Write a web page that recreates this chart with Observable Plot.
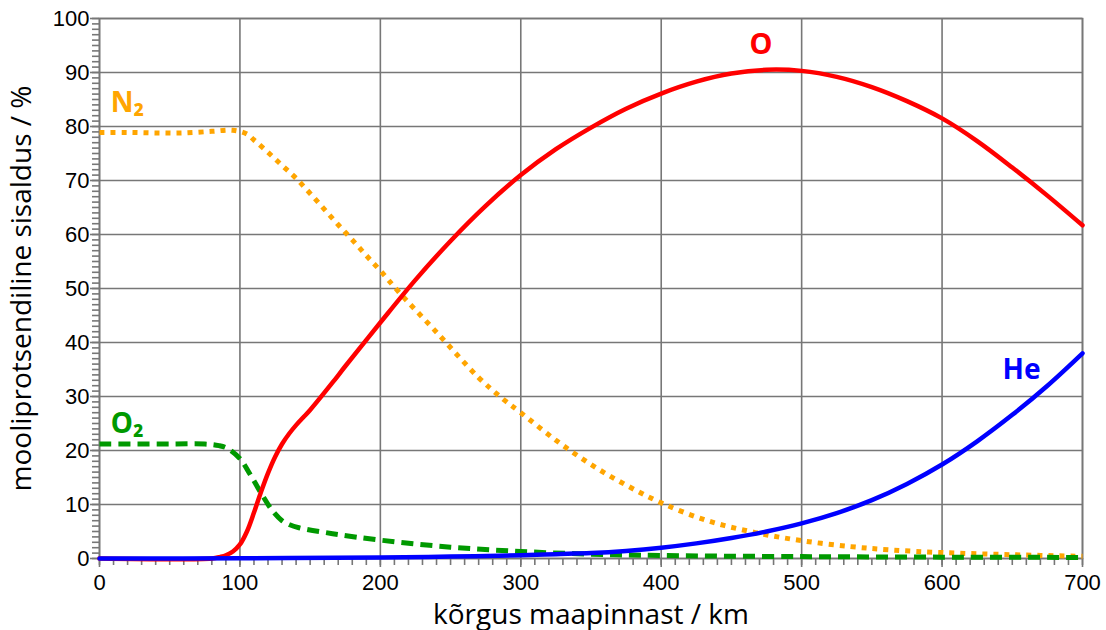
<!DOCTYPE html>
<html>
<head>
<meta charset="utf-8">
<script src="https://cdn.jsdelivr.net/npm/d3@7"></script>
<script src="https://cdn.jsdelivr.net/npm/@observablehq/plot@0.6"></script>
<style>
  html, body { margin: 0; padding: 0; background: #fff; }
  #chart svg { display: block; }
</style>
</head>
<body>
<div id="chart"></div>
<script>
// ---- data ----
const xTitle = "kõrgus maapinnast / km";
const yTitle = "mooliprotsendiline sisaldus / %";
const xTicks = [0, 100, 200, 300, 400, 500, 600, 700];
const yTicks = [0, 10, 20, 30, 40, 50, 60, 70, 80, 90, 100];

const n2Alt = [0, 20, 40, 60, 80, 95, 105, 110, 120, 130, 140, 150, 160, 170, 180, 190, 200, 213, 240, 270, 287, 300, 325, 350, 375, 400, 433, 467, 500, 535, 563, 600, 650, 700];
const n2Val = [78.9, 78.9, 78.8, 78.8, 79.1, 79.3, 78.6, 77.5, 75.2, 72.8, 70.4, 67.6, 64.7, 61.8, 59.0, 56.1, 53.3, 49.4, 41.9, 33.5, 29.6, 27.0, 21.9, 17.4, 13.6, 10.3, 7.0, 4.8, 3.3, 2.2, 1.6, 1.1, 0.7, 0.4];

const oAlt = [0, 80, 86, 90, 95, 100, 105, 110, 115, 120, 125, 130, 135, 140, 145, 150, 166, 175, 200, 225, 250, 275, 300, 325, 350, 375, 400, 425, 450, 475, 500, 525, 550, 575, 600, 625, 650, 675, 700];
const oVal = [0, 0, 0.3, 0.6, 1.3, 2.6, 5.0, 8.5, 12.3, 15.8, 18.8, 21.2, 23.1, 24.7, 26.1, 27.5, 32.6, 35.6, 43.7, 51.6, 58.8, 65.3, 71.0, 75.8, 79.8, 83.3, 86.1, 88.3, 89.8, 90.5, 90.3, 89.2, 87.3, 84.7, 81.5, 77.3, 72.4, 67.2, 61.7];

const o2Alt = [0, 50, 75, 85, 91, 100, 107, 116, 123, 130, 135, 142, 166, 200, 250, 300, 350, 400, 500, 600, 700];
const o2Val = [21.2, 21.2, 21.2, 20.9, 20.4, 18.5, 15.7, 11.7, 8.9, 7.0, 6.3, 5.7, 4.6, 3.4, 2.1, 1.3, 0.8, 0.55, 0.35, 0.25, 0.2];

const heAlt = [0, 100, 200, 250, 300, 325, 350, 375, 400, 425, 450, 475, 500, 525, 550, 575, 600, 625, 650, 675, 700];
const heVal = [0, 0.05, 0.2, 0.35, 0.6, 0.8, 1.0, 1.4, 2.0, 2.8, 3.8, 5.0, 6.5, 8.4, 10.8, 13.8, 17.4, 21.7, 26.6, 32.0, 38.0];

const labelText = ["O", "N₂", "O₂", "He"];
const labelAlt = [471, 8, 8, 643];
const labelVal = [93.5, 82.6, 23.3, 33.3];
const labelColor = ["#ff0000", "#ffa500", "#009900", "#0000ff"];

// ---- build tables ----
const toRows = (xs, ys) => xs.map((x, i) => ({x, y: ys[i]}));
const n2 = toRows(n2Alt, n2Val);
const o = toRows(oAlt, oVal);
const o2 = toRows(o2Alt, o2Val);
const he = toRows(heAlt, heVal);
const labels = labelText.map((t, i) => ({t, x: labelAlt[i], y: labelVal[i], c: labelColor[i]}));

const gray = "#777";
const tickFont = "Liberation Sans, Arial, sans-serif";
const titleFont = "Open Sans, Noto Sans, sans-serif";
const labelFont = "Noto Sans, Open Sans, sans-serif";
const curve = "catmull-rom";

const chart = Plot.plot({
  width: 1106,
  height: 630,
  marginLeft: 99,
  marginRight: 24,
  marginTop: 18,
  marginBottom: 72,
  style: {fontFamily: tickFont, background: "#fff", overflow: "visible"},
  x: {domain: [0, 700], axis: null},
  y: {domain: [0, 100], axis: null},
  marks: [
    Plot.gridX(xTicks, {stroke: gray, strokeOpacity: 1, strokeWidth: 1.6}),
    Plot.gridY(yTicks, {stroke: gray, strokeOpacity: 1, strokeWidth: 1.6}),
    Plot.frame({stroke: gray, strokeWidth: 1.6}),
    // minor ticks
    Plot.axisX(d3.range(0, 701, 10), {tickSize: 7, text: null, label: null, stroke: gray, strokeWidth: 1.6}),
    Plot.axisY(d3.range(0, 101, 1), {tickSize: 7, text: null, label: null, stroke: gray, strokeWidth: 1.6}),
    // major ticks + labels
    Plot.axisX(xTicks, {tickSize: 9, tickPadding: 7, stroke: gray, strokeWidth: 1.6, fill: "#000", fontSize: 22, label: null}),
    Plot.axisY(yTicks, {tickSize: 9, tickPadding: 1, stroke: gray, strokeWidth: 1.6, fill: "#000", fontSize: 22, label: null, style: {letterSpacing: "1px"}}),
    // series
    Plot.line(n2, {x: "x", y: "y", stroke: "#ffa500", strokeWidth: 5, strokeDasharray: "5,6", strokeLinecap: "butt", curve}),
    Plot.line(o2, {x: "x", y: "y", stroke: "#009900", strokeWidth: 5, strokeDasharray: "12,7", strokeLinecap: "butt", curve}),
    Plot.line(o, {x: "x", y: "y", stroke: "#ff0000", strokeWidth: 4.5, curve}),
    Plot.line(he, {x: "x", y: "y", stroke: "#0000ff", strokeWidth: 4.5, curve}),
    // series labels
    Plot.text(labels.slice(0, 1), {x: "x", y: "y", text: "t", fill: "c", textAnchor: "middle", lineAnchor: "bottom", fontSize: 29, fontWeight: "bold", fontFamily: labelFont}),
    Plot.text(labels.slice(1), {x: "x", y: "y", text: "t", fill: "c", textAnchor: "start", lineAnchor: "bottom", fontSize: 28, fontWeight: "bold", fontFamily: labelFont}),
    // axis titles
    Plot.text([xTitle], {frameAnchor: "bottom", text: d => d, dy: 65, textAnchor: "middle", fontSize: 28, fontFamily: titleFont, fill: "#000"}),
    Plot.text([yTitle], {frameAnchor: "left", text: d => d, dx: -77, rotate: -90, textAnchor: "middle", fontSize: 28, fontFamily: titleFont, fill: "#000"})
  ]
});
document.getElementById("chart").appendChild(chart);
</script>
</body>
</html>
